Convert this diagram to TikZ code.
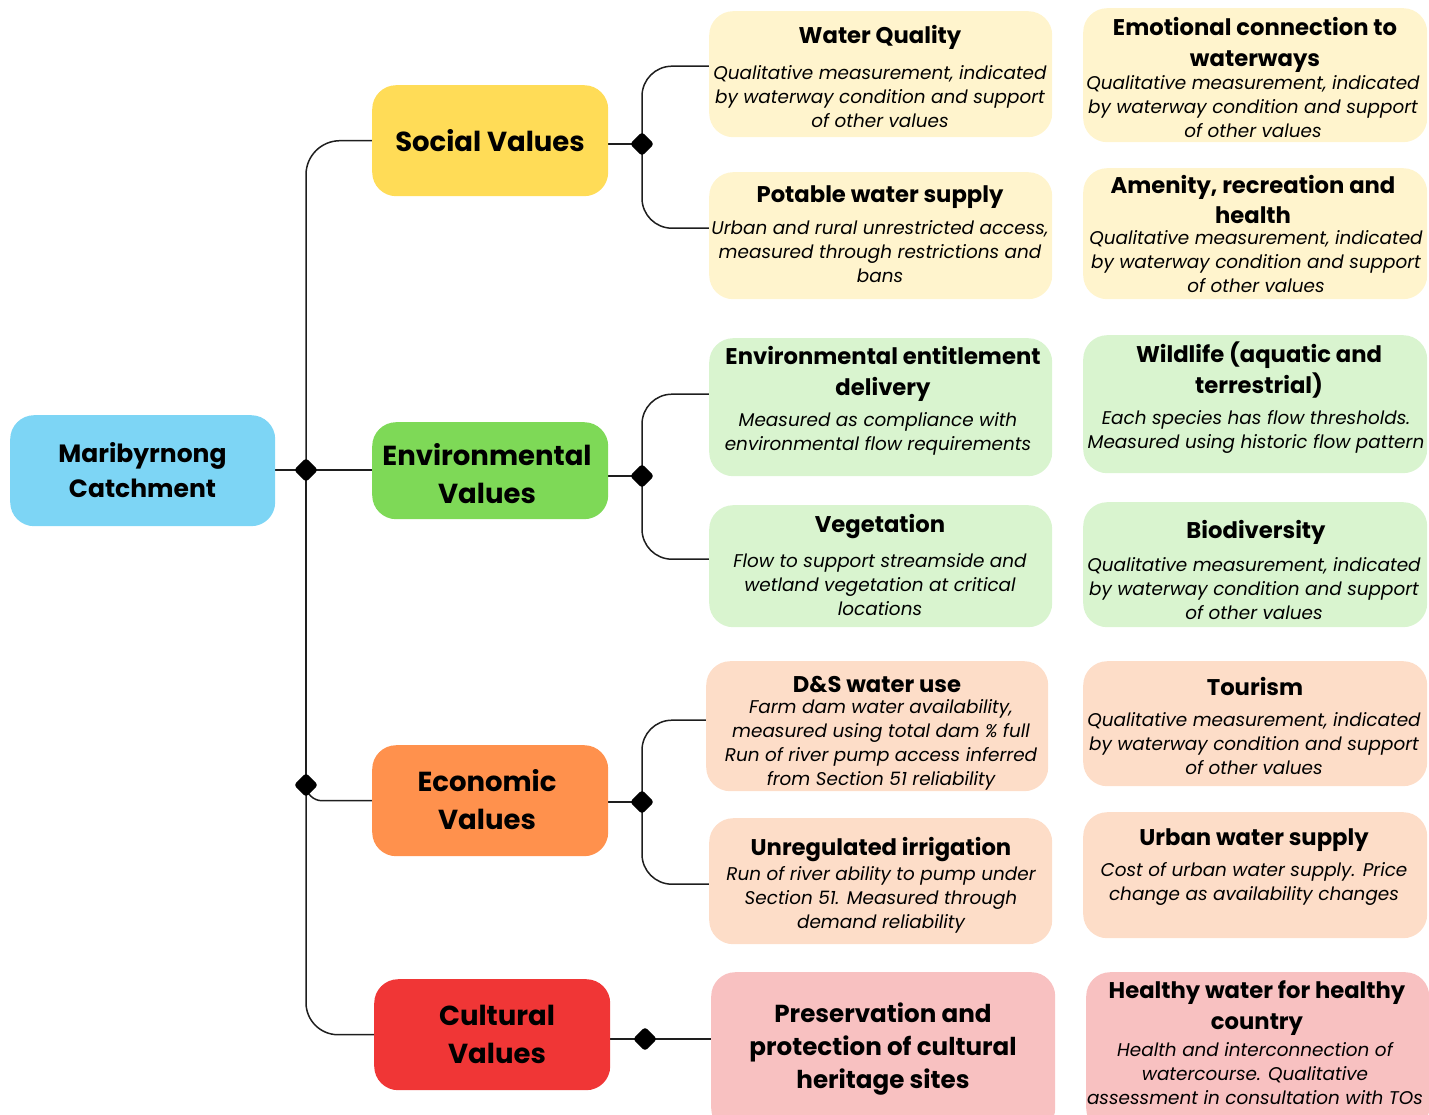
\documentclass[tikz,border=0pt]{standalone}
\usepackage{fontspec}
\setmainfont{Poppins}
\usetikzlibrary{backgrounds}

\definecolor{rootblue}{HTML}{7DD5F5}
\definecolor{socyellow}{HTML}{FFDC57}
\definecolor{envgreen}{HTML}{7ED957}
\definecolor{ecoorange}{HTML}{FF914D}
\definecolor{culred}{HTML}{F03636}
\definecolor{lyellow}{HTML}{FFF4CD}
\definecolor{lgreen}{HTML}{D9F4CF}
\definecolor{lpeach}{HTML}{FDDDC8}
\definecolor{lpink}{HTML}{F8C1C1}
\definecolor{ink}{HTML}{1E1E1E}

\tikzset{
  box/.style={rounded corners=24pt, inner sep=0pt, anchor=north west, draw=none},
  hub/.style={font=\bfseries\fontsize{25}{35}\selectfont, align=center, inner sep=0pt},
  cat/.style={font=\bfseries\fontsize{27.5}{38}\selectfont, align=center, inner sep=0pt},
  ttl/.style={font=\bfseries\fontsize{22.7}{30.5}\selectfont, align=center, inner sep=0pt},
  bigttl/.style={font=\bfseries\fontsize{24.6}{33}\selectfont, align=center, inner sep=0pt},
  dsc/.style={font=\itshape\fontsize{18.4}{24}\selectfont, align=center, inner sep=0pt},
  conn/.style={draw=ink, line width=1.5pt},
  joint/.style={rectangle, fill=black, minimum size=17pt, inner sep=0pt, rotate=45, rounded corners=3pt},
}

\begin{document}
\begin{tikzpicture}[x=1pt,y=-1pt]
\useasboundingbox (0,0) rectangle (1429,1115);
\clip (0,0) rectangle (1429,1115);

% ---------- main boxes ----------
\node[box, fill=rootblue, minimum width=265pt, minimum height=111pt] (root) at (10,415) {};
\node[hub] (root-t) at (142.5,470) {Maribyrnong\\Catchment};

\node[box, fill=socyellow, minimum width=236pt, minimum height=111pt] (soc) at (372,85) {};
\node[cat] (soc-t) at (490,141) {Social Values};

\node[box, fill=envgreen, minimum width=236pt, minimum height=97pt] (env) at (372,422) {};
\node[cat] (env-t) at (487,474) {Environmental\\Values};

\node[box, fill=ecoorange, minimum width=236pt, minimum height=111pt] (eco) at (372,745) {};
\node[cat] (eco-t) at (487,800) {Economic\\Values};

\node[box, fill=culred, minimum width=236pt, minimum height=111pt] (cul) at (374,979) {};
\node[cat] (cul-t) at (497,1034) {Cultural\\Values};

% ---------- first column of cards ----------
\node[box, fill=lyellow, minimum width=343pt, minimum height=126pt] (wq) at (709,11) {};
\node[ttl] (wq-t) at (880,37.5) {Water Quality};
\node[dsc] (wq-d) at (880,97) {Qualitative measurement, indicated\\by waterway condition and support\\of other values};

\node[box, fill=lyellow, minimum width=343pt, minimum height=127pt] (pws) at (709,172) {};
\node[ttl] (pws-t) at (880,197.5) {Potable water supply};
\node[dsc] (pws-d) at (880,252) {Urban and rural unrestricted access,\\measured through restrictions and\\bans};

\node[box, fill=lgreen, minimum width=343pt, minimum height=138pt] (eed) at (709,338) {};
\node[ttl] (eed-t) at (883,374) {Environmental entitlement\\delivery};
\node[dsc] (eed-d) at (878,434) {Measured as compliance with\\environmental flow requirements};

\node[box, fill=lgreen, minimum width=343pt, minimum height=122pt] (veg) at (709,505) {};
\node[ttl] (veg-t) at (880,526.5) {Vegetation};
\node[dsc] (veg-d) at (880,585) {Flow to support streamside and\\wetland vegetation at critical\\locations};

\node[box, fill=lpeach, minimum width=342pt, minimum height=130pt] (dsw) at (706,661) {};
\node[ttl] (dsw-t) at (877,684) {D\&S water use};
\node[dsc] (dsw-d) at (881,745) {Farm dam water availability,\\measured using total dam \% full\\Run of river pump access inferred\\from Section 51 reliability};

\node[box, fill=lpeach, minimum width=343pt, minimum height=126pt] (uir) at (709,818) {};
\node[ttl] (uir-t) at (881,849.5) {Unregulated irrigation};
\node[dsc] (uir-d) at (881,900) {Run of river ability to pump under\\Section 51. Measured through\\demand reliability};

\node[box, fill=lpink, minimum width=344pt, minimum height=160pt] (pres) at (711,972) {};
\node[bigttl] (pres-t) at (883,1049) {Preservation and\\protection of cultural\\heritage sites};

% ---------- second column of cards ----------
\node[box, fill=lyellow, minimum width=344pt, minimum height=134pt] (emo) at (1083,8) {};
\node[ttl] (emo-t) at (1255,45) {Emotional connection to\\waterways};
\node[dsc] (emo-d) at (1253,107) {Qualitative measurement, indicated\\by waterway condition and support\\of other values};

\node[box, fill=lyellow, minimum width=344pt, minimum height=131pt] (amen) at (1083,168) {};
\node[ttl] (amen-t) at (1253,199.5) {Amenity, recreation and\\health};
\node[dsc] (amen-d) at (1256,262) {Qualitative measurement, indicated\\by waterway condition and support\\of other values};

\node[box, fill=lgreen, minimum width=344pt, minimum height=138pt] (wild) at (1083,335) {};
\node[ttl] (wild-t) at (1259,370) {Wildlife (aquatic and\\terrestrial)};
\node[dsc] (wild-d) at (1256,432) {Each species has flow thresholds.\\Measured using historic flow pattern};

\node[box, fill=lgreen, minimum width=344pt, minimum height=125pt] (bio) at (1083,502) {};
\node[ttl] (bio-t) at (1256,532.5) {Biodiversity};
\node[dsc] (bio-d) at (1254,589) {Qualitative measurement, indicated\\by waterway condition and support\\of other values};

\node[box, fill=lpeach, minimum width=344pt, minimum height=125pt] (tour) at (1083,661) {};
\node[ttl] (tour-t) at (1255,686) {Tourism};
\node[dsc] (tour-d) at (1254,744) {Qualitative measurement, indicated\\by waterway condition and support\\of other values};

\node[box, fill=lpeach, minimum width=344pt, minimum height=126pt] (urb) at (1083,812) {};
\node[ttl] (urb-t) at (1254,840.5) {Urban water supply};
\node[dsc] (urb-d) at (1254,884) {Cost of urban water supply. Price\\change as availability changes};

\node[box, fill=lpink, minimum width=343pt, minimum height=160pt] (hlth) at (1086,972) {};
\node[ttl] (hlth-t) at (1257,1008) {Healthy water for healthy\\country};
\node[dsc] (hlth-d) at (1255,1074) {Health and interconnection of\\watercourse. Qualitative\\assessment in consultation with TOs};

% ---------- joints ----------
\node[joint] (j0) at (306,470) {};
\node[joint] (j1) at (306,785) {};
\node[joint] (js) at (642,144) {};
\node[joint] (je) at (642,476) {};
\node[joint] (jc) at (642,802) {};
\node[joint] (jk) at (645,1039) {};

% ---------- connectors ----------
\begin{scope}[on background layer]
  % trunk
  \draw[conn] (root.east |- j0) -- (j0.center) -- (env.west |- j0);
  \draw[conn, rounded corners=34pt] (soc.west) -| (j0.center);
  \draw[conn] (j0.center) -- (j1.center);
  \draw[conn, rounded corners=16pt] (j1.center) |- (eco.west);
  \draw[conn, rounded corners=32pt] (j1.center) |- (cul.west);
  % social branch
  \draw[conn] (soc.east |- js) -- (js.center);
  \draw[conn, rounded corners=30pt] (js.center) |- ([yshift=8pt]wq.west);
  \draw[conn, rounded corners=30pt] (js.center) |- ([yshift=7.5pt]pws.west);
  % environmental branch
  \draw[conn] (env.east |- je) -- (je.center);
  \draw[conn, rounded corners=30pt] (je.center) |- ([yshift=13pt]eed.west);
  \draw[conn, rounded corners=30pt] (je.center) |- ([yshift=7pt]veg.west);
  % economic branch
  \draw[conn] (eco.east |- jc) -- (jc.center);
  \draw[conn, rounded corners=30pt] (jc.center) |- ([yshift=6pt]dsw.west);
  \draw[conn, rounded corners=30pt] (jc.center) |- ([yshift=-3pt]uir.west);
  % cultural branch
  \draw[conn] (cul.east |- jk) -- (jk.center) -- (pres.west |- jk);
\end{scope}
\end{tikzpicture}
\end{document}
